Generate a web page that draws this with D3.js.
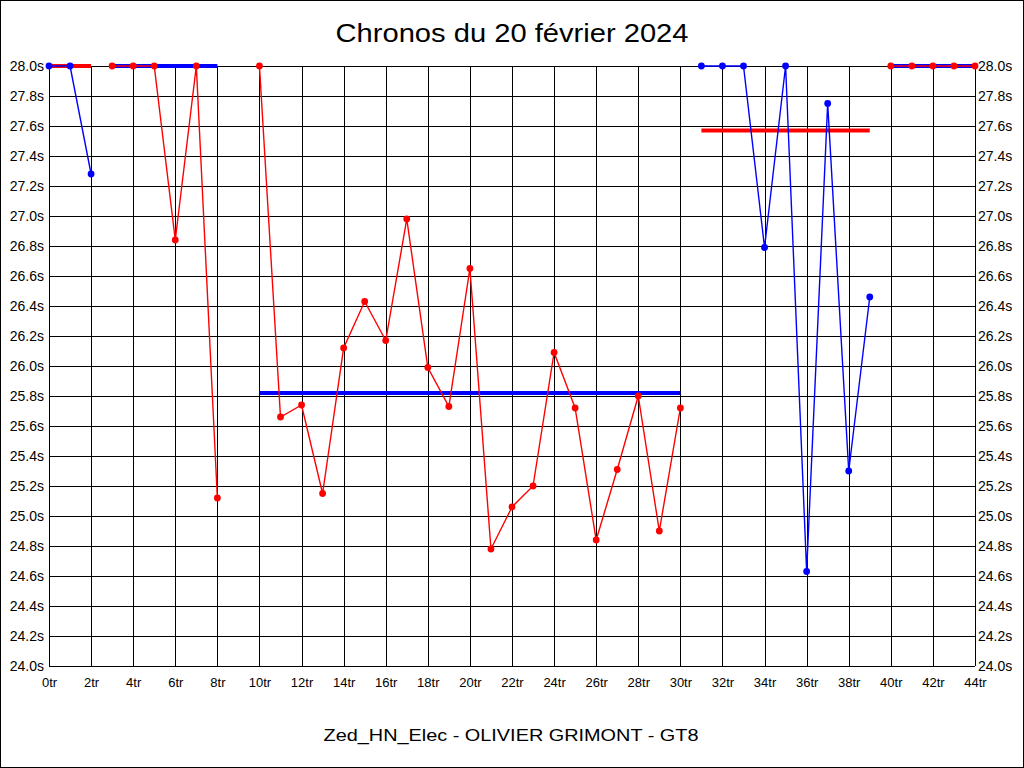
<!DOCTYPE html>
<html>
<head>
<meta charset="utf-8">
<script src="https://cdn.jsdelivr.net/npm/d3@7/dist/d3.min.js"></script>
<style>
  html, body { margin: 0; padding: 0; background: #fff; }
  svg { display: block; font-family: "Liberation Sans", Arial, sans-serif; }
</style>
</head>
<body>
<script>
// ---- Data ----
const title = "Chronos du 20 février 2024";
const subtitle = "Zed_HN_Elec - OLIVIER GRIMONT - GT8";

const stint1Laps = [0, 1, 2];
const stint1Times = [28.0, 28.0, 27.28];
const stint2Laps = [3, 4, 5, 6, 7, 8];
const stint2Times = [28.0, 28.0, 28.0, 26.84, 28.0, 25.12];
const stint3Laps = [10, 11, 12, 13, 14, 15, 16, 17, 18, 19, 20, 21, 22, 23, 24, 25, 26, 27, 28, 29, 30];
const stint3Times = [28.0, 25.66, 25.74, 25.15, 26.12, 26.43, 26.17, 26.98, 25.99, 25.73, 26.65,
                     24.78, 25.06, 25.20, 26.09, 25.72, 24.84, 25.31, 25.80, 24.90, 25.72];
const stint4Laps = [31, 32, 33, 34, 35, 36, 37, 38, 39];
const stint4Times = [28.0, 28.0, 28.0, 26.79, 28.0, 24.63, 27.75, 25.30, 26.46];
const stint5Laps = [40, 41, 42, 43, 44];
const stint5Times = [28.0, 28.0, 28.0, 28.0, 28.0];

const stintColors = ["#0000ff", "#ff0000", "#ff0000", "#0000ff", "#ff0000"];
const avgColors = ["#ff0000", "#0000ff", "#0000ff", "#ff0000", "#0000ff"];
const stintAverages = [28.0, 28.0, 25.82, 27.57, 28.0];

const xTickValues = d3.range(0, 45, 2);
const yTickValues = d3.range(0, 21).map(i => +(24 + i * 0.2).toFixed(1));

// ---- Layout ----
const W = 1024, H = 768;
const x = d3.scaleLinear().domain([0, 44]).range([49, 975]);
const y = d3.scaleLinear().domain([24, 28]).range([666, 66]);

const svg = d3.select("body").append("svg").attr("width", W).attr("height", H);

svg.append("rect").attr("x", 0.5).attr("y", 0.5).attr("width", W - 1).attr("height", H - 1)
  .attr("fill", "#fff").attr("stroke", "#000").attr("stroke-width", 1);

// Grid + axes
const gx = svg.append("g").attr("transform", `translate(0,${y(24)})`)
  .call(d3.axisBottom(x).tickValues(xTickValues).tickFormat(d => d + "tr")
    .tickSize(-(y(24) - y(28))).tickPadding(12));
const gyL = svg.append("g").attr("transform", `translate(${x(0)},0)`)
  .call(d3.axisLeft(y).tickValues(yTickValues).tickFormat(d => d.toFixed(1) + "s")
    .tickSize(-(x(44) - x(0))).tickPadding(5));
const gyR = svg.append("g").attr("transform", `translate(${x(44)},0)`)
  .call(d3.axisRight(y).tickValues(yTickValues).tickFormat(d => d.toFixed(1) + "s")
    .tickSize(0).tickPadding(3));

[gx, gyL, gyR].forEach(g => {
  g.select(".domain").remove();
  g.selectAll("line").attr("stroke", "#000").attr("stroke-width", 1).attr("shape-rendering", "crispEdges");
  g.selectAll("text").attr("fill", "#000").attr("font-size", 14)
    .attr("font-family", "'Liberation Sans', Arial, sans-serif");
});
gx.selectAll("text").attr("font-size", 13);

// Stints
const stints = [
  { laps: stint1Laps, times: stint1Times },
  { laps: stint2Laps, times: stint2Times },
  { laps: stint3Laps, times: stint3Times },
  { laps: stint4Laps, times: stint4Times },
  { laps: stint5Laps, times: stint5Times }
];

// average lines
stints.forEach((s, i) => {
  svg.append("line")
    .attr("x1", x(s.laps[0])).attr("x2", x(s.laps[s.laps.length - 1]))
    .attr("y1", y(stintAverages[i])).attr("y2", y(stintAverages[i]))
    .attr("stroke", avgColors[i]).attr("stroke-width", 4);
});

const line = d3.line().x(d => x(d[0])).y(d => y(d[1]));
stints.forEach((s, i) => {
  const pts = s.laps.map((l, j) => [l, s.times[j]]);
  svg.append("path").datum(pts).attr("d", line)
    .attr("fill", "none").attr("stroke", stintColors[i]).attr("stroke-width", 1.4);
  svg.append("g").selectAll("circle").data(pts).join("circle")
    .attr("cx", d => x(d[0])).attr("cy", d => y(d[1])).attr("r", 3.4)
    .attr("fill", stintColors[i]);
});

// Titles
svg.append("text").attr("x", 512).attr("y", 42).attr("text-anchor", "middle")
  .attr("font-size", 26).attr("textLength", 353).attr("lengthAdjust", "spacingAndGlyphs")
  .attr("fill", "#000").text(title);
svg.append("text").attr("x", 511).attr("y", 741).attr("text-anchor", "middle")
  .attr("font-size", 17).attr("textLength", 375).attr("lengthAdjust", "spacingAndGlyphs")
  .attr("fill", "#000").text(subtitle);
</script>
</body>
</html>
